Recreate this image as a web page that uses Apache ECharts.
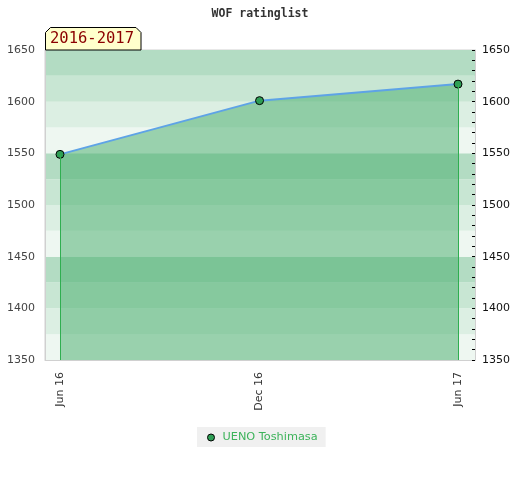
<!DOCTYPE html>
<html><head><meta charset="utf-8">
<script src="https://cdn.jsdelivr.net/npm/echarts@6/dist/echarts.min.js"></script>
<style>html,body{margin:0;padding:0;background:#fff}#c{width:520px;height:480px}</style>
</head><body><div id="c"></div>
<script>
var titleText = 'WOF ratinglist';
var periodLabel = '2016-2017';
var seriesName = 'UENO Toshimasa';
var dates = ['2016-06-01', '2016-12-01', '2017-06-01'];
var ratings = [1549, 1601, 1617];
var tickDates = ['2016-06-01', '2016-12-01', '2017-06-01'];
var monthNames = ['Jan','Feb','Mar','Apr','May','Jun','Jul','Aug','Sep','Oct','Nov','Dec'];
var yMin = 1350, yMax = 1650;
var xMin = '2016-05-18T06:00:00Z', xMax = '2017-06-16T14:00:00Z';

function ts(d){ return new Date(d.length === 10 ? d + 'T00:00:00Z' : d).getTime(); }
var points = dates.map(function(d, i){ return [ts(d), ratings[i]]; });
var tickVals = tickDates.map(ts);

var chart = echarts.init(document.getElementById('c'), null, {renderer: 'canvas'});
chart.setOption({
  animation: false,
  backgroundColor: '#ffffff',
  title: {
    text: titleText, left: 'center', top: 3,
    textStyle: {fontFamily: 'DejaVu Sans Mono', fontSize: 11.5, fontWeight: 'bold', color: '#333'}
  },
  grid: {left: 45, right: 45, top: 50, bottom: 120, show: true, borderColor: '#d0d0d0', borderWidth: 1, backgroundColor: 'transparent'},
  legend: {
    bottom: 33, left: 197,
    backgroundColor: '#f0f0f0', padding: [5, 8, 4, 10],
    icon: 'circle', itemWidth: 7, itemHeight: 7,
    textStyle: {fontFamily: 'DejaVu Sans', fontSize: 11.3, color: '#3cb35a', padding: [0, 0, 0, 3]},
    data: [{name: seriesName, itemStyle: {color: '#2e9e55', borderColor: '#000', borderWidth: 1}}]
  },
  xAxis: {
    type: 'value', min: ts(xMin), max: ts(xMax), scale: true,
    axisLine: {show: true, onZero: false, lineStyle: {color: '#d0d0d0'}},
    axisTick: {show: false},
    splitLine: {show: false},
    axisLabel: {
      customValues: tickVals, rotate: 90, margin: 12,
      fontFamily: 'DejaVu Sans', fontSize: 11, color: '#333',
      formatter: function(v){ var d = new Date(v); return monthNames[d.getUTCMonth()] + ' ' + String(d.getUTCFullYear()).slice(2); }
    }
  },
  yAxis: [{
    type: 'value', min: yMin, max: yMax, interval: 25, position: 'left',
    axisLine: {show: true, lineStyle: {color: '#d0d0d0'}},
    axisTick: {show: false},
    splitLine: {show: false},
    splitArea: {show: true, areaStyle: {color: ['#eef7f1', '#dcefe3', '#c8e6d3', '#b3dcc3']}},
    axisLabel: {
      fontFamily: 'DejaVu Sans', fontSize: 11, color: '#444', margin: 10,
      formatter: function(v){ return v % 50 === 0 ? String(v) : ''; }
    }
  }, {
    type: 'value', min: yMin, max: yMax, interval: 10, position: 'right',
    axisLine: {show: true, lineStyle: {color: '#d0d0d0'}},
    axisTick: {show: true, inside: true, length: 3, lineStyle: {color: '#000'}},
    splitLine: {show: false},
    axisLabel: {
      fontFamily: 'DejaVu Sans', fontSize: 11, color: '#111', margin: 7,
      formatter: function(v){ return v % 50 === 0 ? String(v) : ''; }
    }
  }],
  series: [{
    name: seriesName, type: 'line', data: points, yAxisIndex: 0,
    symbol: 'circle', symbolSize: 8,
    itemStyle: {color: '#2e9e55', borderColor: '#000', borderWidth: 1},
    lineStyle: {color: '#5ea3e6', width: 2},
    areaStyle: {color: 'rgba(67,172,105,0.5)', opacity: 1, origin: 'start'},
    markLine: {
      silent: true, symbol: ['none', 'none'], label: {show: false},
      lineStyle: {color: '#2fae50', width: 1, type: 'solid'},
      data: [
        [{coord: [points[0][0], points[0][1]]}, {coord: [points[0][0], yMin]}],
        [{coord: [points[points.length-1][0], points[points.length-1][1]]}, {coord: [points[points.length-1][0], yMin]}]
      ]
    },
    z: 3
  }],
  graphic: [{
    type: 'polygon', z: 10,
    shape: {points: [[45.5, 50], [45.5, 32.5], [50.5, 27.5], [136, 27.5], [141, 32.5], [141, 50]]},
    style: {fill: '#ffffcc', stroke: '#000', lineWidth: 1}
  }, {
    type: 'text', z: 11, left: 50, top: 31,
    style: {text: periodLabel, fontFamily: 'DejaVu Sans Mono', fontSize: 15.5, fill: '#8b0000'}
  }]
});
</script></body></html>
